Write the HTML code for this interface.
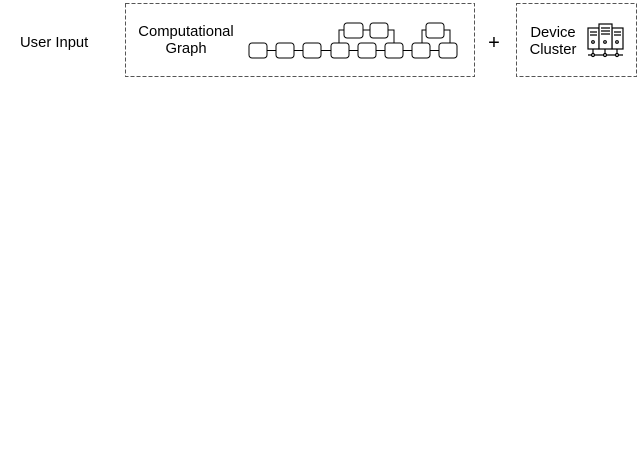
<!DOCTYPE html>
<html><head><style>
body{margin:0;width:640px;height:448px;background:#fff;overflow:hidden}
</style></head><body>
<svg width="640" height="448" xmlns="http://www.w3.org/2000/svg" font-family="Liberation Sans, Arial, sans-serif" font-size="14.8" fill="#000">
<text x="20" y="47">User Input</text>
<rect x="125.5" y="3.5" width="349" height="73" fill="none" stroke="#555" stroke-dasharray="4,2"/>
<text x="186" y="36" text-anchor="middle">Computational</text>
<text x="186" y="53" text-anchor="middle">Graph</text>
<g fill="#fff" stroke="#000" stroke-width="1">
<path d="M339 43V30H344 M363 30H370 M388 30H394V43 M422 43V30H426 M444 30H450V43 M249 50.5H457" fill="none"/>
<rect x="249" y="43" width="18" height="15" rx="3"/>
<rect x="276" y="43" width="18" height="15" rx="3"/>
<rect x="303" y="43" width="18" height="15" rx="3"/>
<rect x="331" y="43" width="18" height="15" rx="3"/>
<rect x="358" y="43" width="18" height="15" rx="3"/>
<rect x="385" y="43" width="18" height="15" rx="3"/>
<rect x="412" y="43" width="18" height="15" rx="3"/>
<rect x="439" y="43" width="18" height="15" rx="3"/>
<rect x="344" y="23" width="19" height="15" rx="3"/>
<rect x="370" y="23" width="18" height="15" rx="3"/>
<rect x="426" y="23" width="18" height="15" rx="3"/>
</g>
<text x="494" y="49" text-anchor="middle" font-size="20">+</text>
<rect x="516.5" y="3.5" width="120" height="73" fill="none" stroke="#555" stroke-dasharray="4,2"/>
<text x="553" y="37" text-anchor="middle">Device</text>
<text x="553" y="54" text-anchor="middle">Cluster</text>
<g fill="#fff" stroke="#000" stroke-width="1.2">
<rect x="588" y="28" width="11" height="21"/>
<rect x="612" y="28" width="11" height="21"/>
<rect x="599" y="24" width="13" height="25"/>
<path d="M593 49V55 M605 49V55 M617 49V55 M588 55H623" fill="none"/>
<circle cx="593" cy="55" r="1.5"/><circle cx="605" cy="55" r="1.5"/><circle cx="617" cy="55" r="1.5"/>
<path d="M590 32H597 M590 35H597 M614 32H621 M614 35H621 M601 28H610 M601 31H610 M601 34H610" fill="none"/>
<circle cx="593" cy="42" r="1.3"/><circle cx="617" cy="42" r="1.3"/><circle cx="605" cy="42" r="1.3"/>
</g>
</svg>
</body></html>
